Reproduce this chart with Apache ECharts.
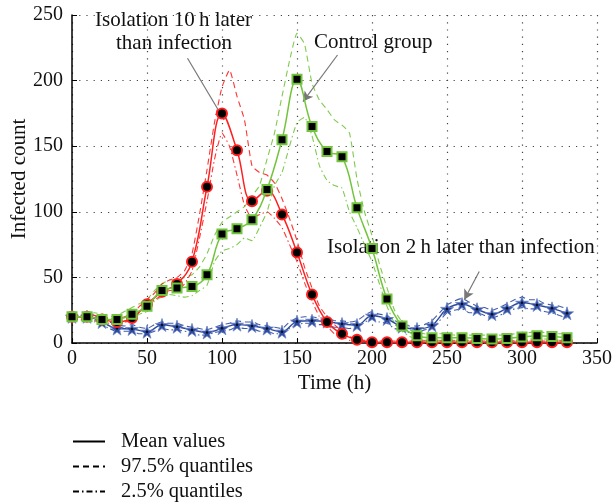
<!DOCTYPE html>
<html><head><meta charset="utf-8">
<script src="https://cdn.jsdelivr.net/npm/echarts@6/dist/echarts.min.js"></script>
<style>html,body{margin:0;padding:0;background:#fff}#c{width:613px;height:504px}</style>
</head><body><div id="c"></div>
<script>
const meanHours = [0,10,20,30,40,50,60,70,80,90,100,110,120,130,140,150,160,170,180,190,200,210,220,230,240,250,260,270,280,290,300,310,320,330];
const redMean = [20,20,18,16,19,29.5,39,45,62,119,175,147,108,116,98,69,37,16,7,2.5,0.5,0.5,0.5,0.5,0.5,0.5,0.5,0.5,0.5,0.5,0.5,0.5,0.5,0.5];
const greenMean = [20,20,18,18,22,28,40,42,43,52,83,87,94,117,155,201,165,146,142,103,72,33.5,13,5.5,4,4,4,3.5,3,3.5,4.5,5.5,5,4];
const blueMean = [20,20,16,11,10.7,8.6,13.7,12.4,10,8,11.2,14,13,11,8.6,16.3,17,16.3,14.5,13.7,20.8,18.3,12.4,10.7,13.5,26,29.7,25.7,22,26.4,30.7,29,26.4,22.6];

const qHours = [0,5,10,15,20,25,30,35,40,45,50,55,60,65,70,75,80,85,90,95,100,105,110,115,120,125,130,135,140,145,150,155,160,165,170,175,180,185,190,195,200,205,210,215,220,225,230,235,240,245,250,255,260,265,270,275,280,285,290,295,300,305,310,315,320,325,330];
const redUpper = [22,21,22,21,20,19,18,20,22,28,33,38,45,48,50,55,68,98,132,168,195,208,188,170,135,130,128,122,110,95,78,58,42,28,20,14,9,5,3,2,1.5,1.5,1.5,1.5,1,1.5,1.5,1.5,1.5,1.5,1.5,1.5,1.5,1.5,1.5,1.5,1.5,1.5,1.5,1.5,1.5,1.5,1.5,1.5,1.5,1.5,1.5];
const redLower = [19,18,18,17,16,15,14,16,17,24,27,33,36,40,40,45,55,80,108,140,160,150,128,105,95,98,100,95,88,75,62,46,32,20,13,7,5,2,1,0.5,0,0,0,0,0,0,0,0,0,0,0,0,0,0,0,0,0,0,0,0,0,0,0,0,0,0,0];
const greenUpper = [22,21,22,23,22,20,21,24,27,30,33,40,45,48,48,50,52,58,68,82,92,96,100,104,112,120,140,160,188,215,236,228,198,185,178,170,166,160,125,100,82,60,42,25,16,10,8,7,6,7,7,6,7,6,6,6,5,6,6,7,8,8,9,8,8,7,7];
const greenLower = [18,17,18,16,15,14,15,17,18,22,24,32,35,37,36,35,36,40,44,62,70,72,75,80,78,88,100,120,130,150,168,172,158,135,124,120,118,100,88,75,62,45,28,15,9,5,3,2,2,2,2,2,2,2,1,1,1,1,1,2,2,3,3,3,3,2,2];
const blueUpper = [22,21,22,21,18,16,14,13,14,12,11,14,16,15,15,13,12,11,10,12,14,15,17,16,16,14,13,12,11,16,19,20,20,19,19,17,17,16,17,21,24,22,21,17,15,13,13,14,17,23,29,32,34,31,28,27,25,27,30,33,35,33,33,30,29,28,26];
const blueLower = [18,18,18,17,14,11,9,9,9,7,7,9,11,10,10,9,8,6,6,8,9,10,12,11,11,9,9,7,7,11,14,15,15,14,14,12,12,11,12,16,18,16,15,11,10,8,8,10,11,17,23,25,26,23,23,21,19,21,24,26,27,26,26,24,23,21,19];

const xTicks = {min:0, max:350, interval:50};
const yTicks = {min:0, max:250, interval:50};
const legendNames = ['Mean values','97.5% quantiles','2.5% quantiles'];
const annotations = [
  {text:'Isolation 10\u2009h later\nthan infection', from:[77,217], to:[101.5,170]},
  {text:'Control group', from:[177,219.5], to:[154,184]},
  {text:'Isolation 2\u2009h later than infection', from:[271.5,54.5], to:[261.5,33]}
];

const RED='#ff1f1f', GREEN='#72c43c', BLUE='#2d4a9e';
const FONT='Liberation Serif';
const zip=(xs,ys)=>xs.map((x,i)=>[x,ys[i]]);
const star='path://M50,0 L61,35 L98,35 L68,57 L79,91 L50,70 L21,91 L32,57 L2,35 L39,35 Z';

function quant(data,color,type){
  return {type:'line',data:zip(qHours,data),symbol:'none',smooth:0.15,silent:true,
    lineStyle:{color:color,width:1.1,type:type,opacity:0.9},z:2};
}
const DASH=[6,4], DASHDOT=[6,3,1.5,3];

const series=[
  quant(blueUpper,BLUE,DASH), quant(blueLower,BLUE,DASHDOT),
  quant(greenUpper,GREEN,DASH), quant(greenLower,GREEN,DASHDOT),
  quant(redUpper,RED,DASH), quant(redLower,RED,DASHDOT),
  {type:'line',data:zip(meanHours,blueMean),smooth:0.4,symbol:star,symbolSize:13,
   lineStyle:{color:BLUE,width:1.4},itemStyle:{color:BLUE,borderColor:'#6f86c8',borderWidth:0.8},z:3},
  {type:'scatter',data:zip(meanHours,blueMean),symbol:'circle',symbolSize:2.5,itemStyle:{color:'#000'},z:4,silent:true},
  {type:'line',data:zip(meanHours,redMean),smooth:0.4,symbol:'circle',symbolSize:10,
   lineStyle:{color:RED,width:1.5},itemStyle:{color:'#000',borderColor:RED,borderWidth:2},z:5},
  {type:'line',data:zip(meanHours,greenMean),smooth:0.4,symbol:'rect',symbolSize:9,
   lineStyle:{color:GREEN,width:1.5},itemStyle:{color:'#000',borderColor:GREEN,borderWidth:2},z:6,
   markLine:{silent:true,symbol:['none','arrow'],symbolSize:[8,10],label:{show:false},
     lineStyle:{color:'#777',width:1.2,type:'solid'},
     data:annotations.map(a=>[{coord:a.from},{coord:a.to}])}},
  {name:legendNames[0],type:'line',data:[],symbol:'none',lineStyle:{color:'#000',width:1.3,type:'solid'},itemStyle:{color:'#000'}},
  {name:legendNames[1],type:'line',data:[],symbol:'none',lineStyle:{color:'#000',width:1.3,type:DASH},itemStyle:{color:'#000'}},
  {name:legendNames[2],type:'line',data:[],symbol:'none',lineStyle:{color:'#000',width:1.3,type:DASHDOT},itemStyle:{color:'#000'}}
];

const chart=echarts.init(document.getElementById('c'),null,{renderer:'canvas'});
const tstyle={fontFamily:FONT,fontSize:20,color:'#111'};
const t21={fontFamily:FONT,fontSize:21,color:'#111'};
chart.setOption({
  animation:false,
  backgroundColor:'#fff',
  textStyle:{fontFamily:FONT},
  grid:{left:72,right:16,top:15,bottom:161,containLabel:false,outerBoundsMode:'none'},
  xAxis:{type:'value',min:xTicks.min,max:xTicks.max,interval:xTicks.interval,
    name:'Time (h)',nameLocation:'middle',nameGap:30,nameMoveOverlap:false,nameTextStyle:t21,
    axisLine:{show:true,lineStyle:{color:'#000',width:1.5}},
    axisTick:{show:true,inside:true,length:5,lineStyle:{color:'#000'}},
    axisLabel:{...tstyle,margin:6},
    splitLine:{show:true,lineStyle:{color:'#444',width:1.2,type:[1.2,6]}}},
  yAxis:{type:'value',min:yTicks.min,max:yTicks.max,interval:yTicks.interval,
    name:'Infected count',nameLocation:'middle',nameGap:42,nameMoveOverlap:false,nameRotate:90,nameTextStyle:t21,
    axisLine:{show:true,lineStyle:{color:'#000',width:1.5}},
    axisTick:{show:true,inside:true,length:5,lineStyle:{color:'#000'}},
    axisLabel:{...tstyle,margin:9},
    splitLine:{show:true,lineStyle:{color:'#444',width:1.2,type:[1.2,6]}}},
  legend:{data:legendNames,orient:'vertical',left:72,top:431,padding:0,itemWidth:32,itemHeight:20,itemGap:4,
    selectedMode:false,itemStyle:{opacity:0},textStyle:{...tstyle,fontSize:20.5,padding:[0,0,0,11]}},
  graphic:[
    {type:'text',left:95,top:10,style:{text:'Isolation 10\u2009h later',fontFamily:FONT,fontSize:21,fill:'#111'}},
    {type:'text',left:116,top:33,style:{text:'than infection',fontFamily:FONT,fontSize:21,fill:'#111'}},
    {type:'text',left:314,top:32,style:{text:'Control group',fontFamily:FONT,fontSize:21,fill:'#111'}},
    {type:'text',left:327,top:237,style:{text:'Isolation 2\u2009h later than infection',fontFamily:FONT,fontSize:21,fill:'#111'}}
  ],
  series:series
});
</script></body></html>
